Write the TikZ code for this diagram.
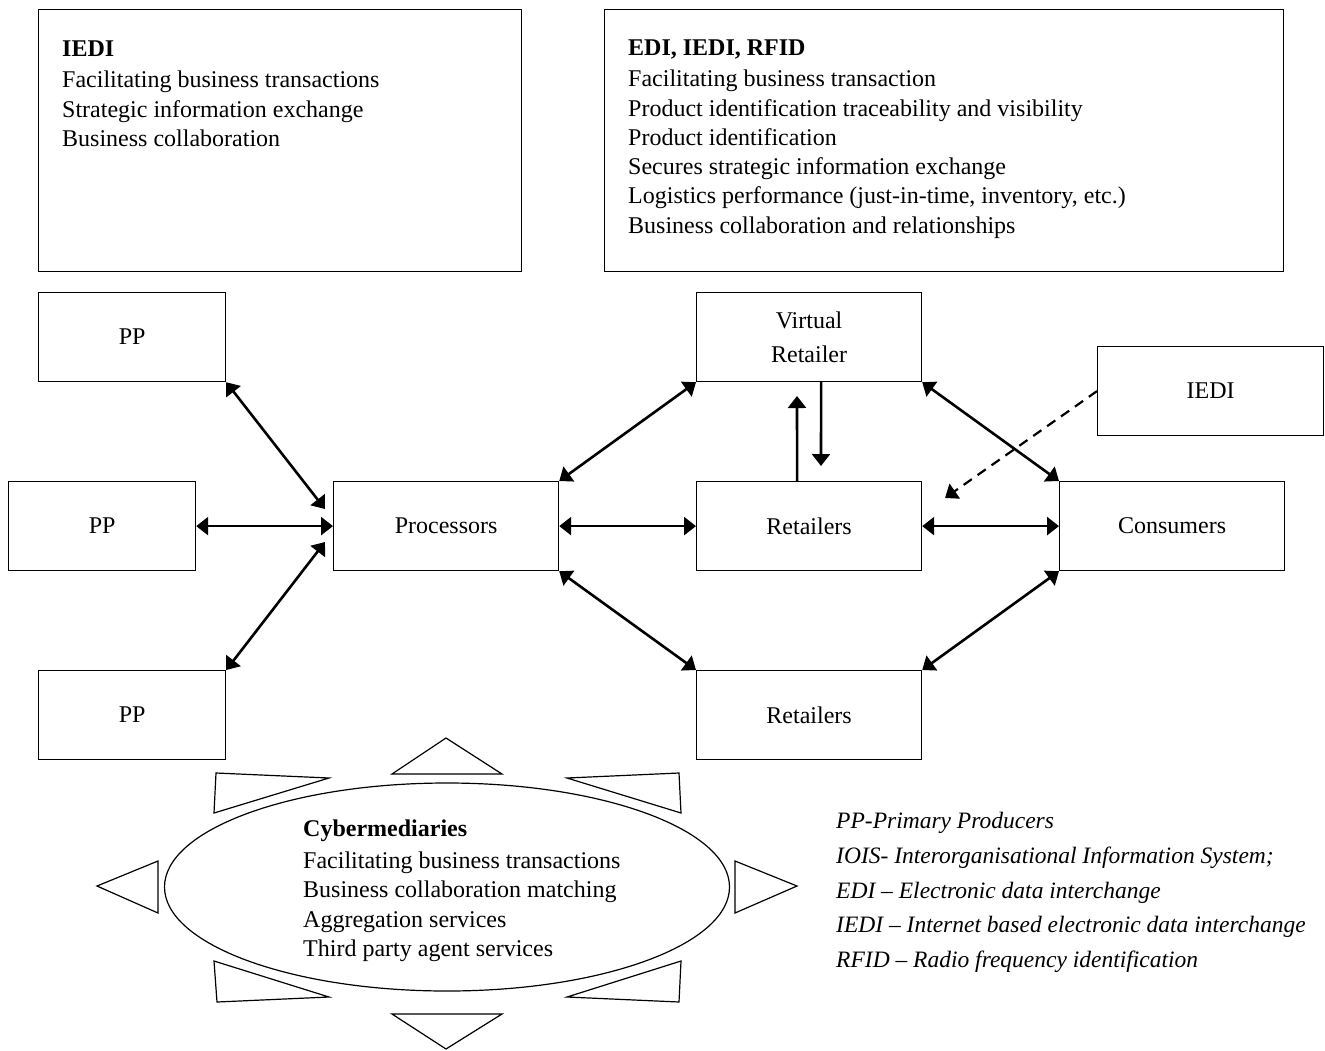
\documentclass[tikz,border=0pt]{standalone}
\usepackage{fontspec}
\setmainfont{Liberation Serif}
\usetikzlibrary{arrows.meta,shapes.geometric,calc}
\begin{document}
\begin{tikzpicture}[x=1pt,y=-1pt,
  >={Triangle[length=12pt,width=18pt]},
  box/.style={draw,line width=1.2pt,inner sep=0pt,anchor=north west,font=\fontsize{24}{34}\selectfont,align=center},
  sbox/.style={box,minimum width=187pt,minimum height=89pt},
  mbox/.style={box,minimum width=225pt,minimum height=89pt},
  lbox/.style={draw,line width=1.2pt,anchor=north west,inner sep=0pt},
  txt/.style={anchor=north west,inner sep=0pt,align=left,font=\fontsize{24}{29.3}\selectfont},
  link/.style={line width=2.6pt,<->},
  onearrow/.style={line width=2.6pt,->},
  tri/.style={draw,line width=1.2pt}]
\useasboundingbox (0,0) rectangle (1325,1050);

% top boxes
\node[lbox,minimum width=483pt,minimum height=262pt] (b1) at (38,9) {};
\node[lbox,minimum width=679pt,minimum height=262pt] (b2) at (604,9) {};
\node[txt] (b1t) at (62,41) {\textbf{IEDI}\\[1.5pt]Facilitating business transactions\\Strategic information exchange\\Business collaboration};
\node[txt] (b2t) at (628,40) {\textbf{EDI, IEDI, RFID}\\[1.5pt]Facilitating business transaction\\Product identification traceability and visibility\\Product identification\\Secures strategic information exchange\\Logistics performance (just-in-time, inventory, etc.)\\Business collaboration and relationships};

% flow boxes
\node[sbox] (pp1) at (38,292) {PP};
\node[sbox] (pp2) at (8,481) {PP};
\node[sbox] (pp3) at (38,670) {PP};
\node[mbox] (proc) at (333,481) {Processors};
\node[mbox] (vr) at (696,292) {Virtual\\Retailer};
\node[mbox] (ret) at (696,481) {Retailers};
\node[mbox] (cons) at (1059,481) {Consumers};
\node[mbox] (retb) at (696,670) {Retailers};
\node[mbox,minimum width=226pt] (iedi) at (1097,346) {IEDI};

% connectors
\coordinate (c1) at (325,509);
\coordinate (c3) at (325,542);
\draw[link] (pp1.south east) -- (c1);
\draw[link] (pp2.east) -- (proc.west);
\draw[link] (pp3.north east) -- (c3);
\draw[link] (proc.north east) -- (vr.south west);
\draw[link] (proc.east) -- (ret.west);
\draw[link] (proc.south east) -- (retb.north west);
\draw[link] (vr.south east) -- (cons.north west);
\draw[link] (ret.east) -- (cons.west);
\draw[link] (retb.north east) -- (cons.south west);
\coordinate (up) at (797,396);
\coordinate (dn) at (821,466);
\draw[onearrow] ($(ret.north)+(-12,0)$) -- (up);
\draw[onearrow] ($(vr.south)+(12,0)$) -- (dn);
\coordinate (dt) at (945,498);
\draw[onearrow,line width=2.2pt,dash pattern=on 10pt off 7pt] (iedi.west) -- (dt);

% cybermediaries
\node[draw,ellipse,line width=1.2pt,minimum width=565pt,minimum height=208pt,inner sep=0pt] (cyb) at (447,887) {};
\node[txt] (cybt) at (303,820) {\textbf{Cybermediaries}\\[2.5pt]Facilitating business transactions\\Business collaboration matching\\Aggregation services\\Third party agent services};
\draw[tri] (392,774) -- (446,738) -- (502,774) -- cycle;
\draw[tri] (392,1014) -- (502,1014) -- (446,1049) -- cycle;
\draw[tri] (158,861) -- (97,886) -- (158,913) -- cycle;
\draw[tri] (735,861) -- (797,886) -- (735,913) -- cycle;
\draw[tri] (216,773) -- (329,778) -- (214,813) -- cycle;
\draw[tri] (567,778) -- (679,773) -- (681,813) -- cycle;
\draw[tri] (214,961) -- (329,997) -- (217,1002) -- cycle;
\draw[tri] (567,997) -- (681,961) -- (679,1002) -- cycle;

% legend
\node[txt,font=\itshape\fontsize{23.5}{34.8}\selectfont] (leg) at (836,812) {PP-Primary Producers\\IOIS- Interorganisational Information System;\\EDI -- Electronic data interchange\\IEDI -- Internet based electronic data interchange\\RFID -- Radio frequency identification};
\end{tikzpicture}
\end{document}
